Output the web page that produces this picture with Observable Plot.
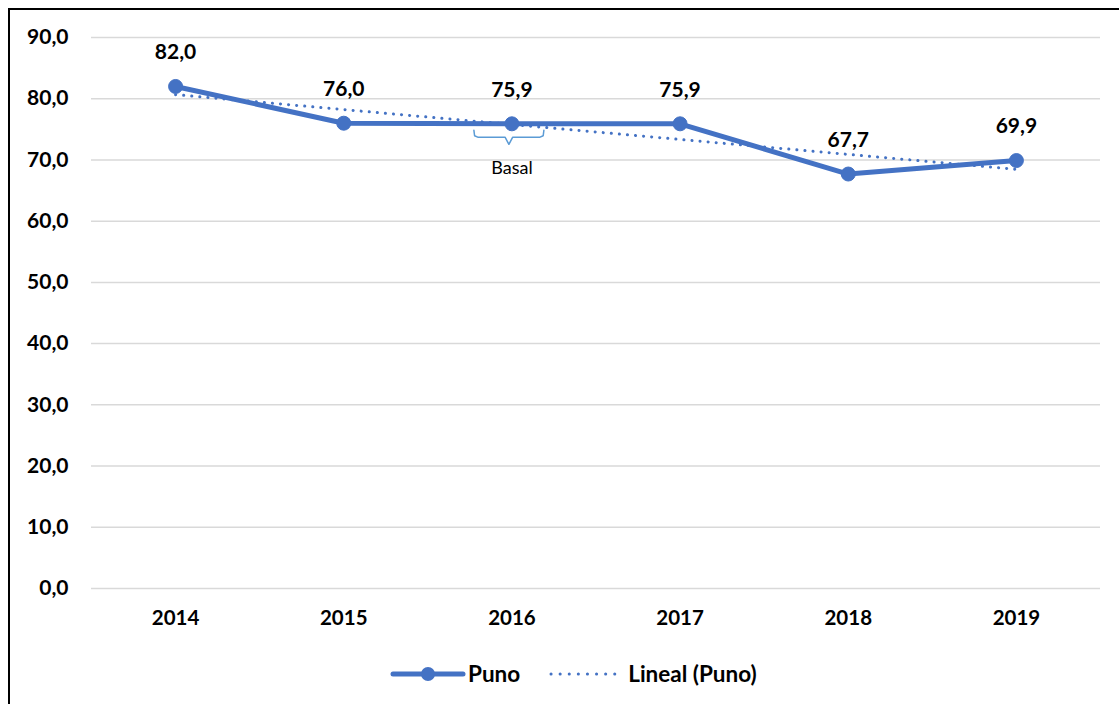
<!DOCTYPE html>
<html>
<head>
<meta charset="utf-8">
<script src="https://cdn.jsdelivr.net/npm/d3@7"></script>
<script src="https://cdn.jsdelivr.net/npm/@observablehq/plot@0.6"></script>
<style>
  html, body { margin: 0; padding: 0; background: #fff; overflow: hidden; }
  #frame { position: absolute; left: 8px; top: 8px; width: 1140px; height: 720px; border: 2px solid #000; box-sizing: border-box; }
  #chart { position: absolute; left: 0px; top: 0px; }
  #legend { position: absolute; left: 380px; top: 650px; display: flex; align-items: center; font-family: Lato, "Noto Sans", sans-serif; font-weight: bold; font-size: 22.5px; color: #000; }
  #legend .item { display: flex; align-items: center; }
  #legend svg { display: block; }
</style>
</head>
<body>
<div id="frame">
  <div id="chart"></div>
  <div id="legend"></div>
</div>
<script>
const years = [2014, 2015, 2016, 2017, 2018, 2019];
const values = [82.0, 76.0, 75.9, 75.9, 67.7, 69.9];
const yTicks = [0, 10, 20, 30, 40, 50, 60, 70, 80, 90];
const seriesName = "Puno";
const trendName = "Lineal (Puno)";
const annotationText = "Basal";
const annotationYear = 2016;
const annotationValue = 68.6;
// brace shape under the 2016 point (data units)
const braceX = [2015.774, 2015.778, 2015.80, 2015.96, 2015.982, 2016.004, 2016.164, 2016.186, 2016.19];
const braceY = [74.84, 73.95, 73.69, 73.69, 72.55, 73.69, 73.69, 73.95, 74.84];

const blue = "#4472C4";
const fmt = d => d.toFixed(1).replace(".", ",");

const data = years.map((y, i) => ({year: y, value: values[i]}));
const brace = braceX.map((x, i) => ({x, y: braceY[i]}));

const chart = Plot.plot({
  width: 1109,
  height: 635,
  marginTop: 27,
  marginLeft: 81,
  marginRight: 19,
  marginBottom: 57,
  style: {fontFamily: "Lato, 'Noto Sans', sans-serif", background: "transparent"},
  x: {domain: [2013.5, 2019.5], ticks: years, tickFormat: d => String(d), tickSize: 0, tickPadding: 22, label: null},
  y: {domain: [0, 90], ticks: yTicks, tickFormat: fmt, tickSize: 0, tickPadding: 23, label: null},
  marks: [
    Plot.gridY(yTicks, {stroke: "#d9d9d9", strokeOpacity: 1, strokeWidth: 1.5}),
    Plot.axisX({ticks: years, tickFormat: d => String(d), tickSize: 0, tickPadding: 22, fontSize: 20.5, fontWeight: "bold", fill: "#000"}),
    Plot.axisY({ticks: yTicks, tickFormat: fmt, tickSize: 0, tickPadding: 23, fontSize: 21, fontWeight: "bold", fill: "#000"}),
    Plot.line(data, {x: "year", y: "value", stroke: blue, strokeWidth: 5, strokeLinejoin: "round"}),
    Plot.linearRegressionY(data, {x: "year", y: "value", stroke: blue, strokeWidth: 3, strokeDasharray: "0.1 8", strokeLinecap: "round", ci: 0}),
    Plot.dot(data, {x: "year", y: "value", r: 7, fill: blue, stroke: blue, strokeWidth: 1}),
    Plot.text(data, {x: "year", y: "value", text: d => fmt(d.value), dy: -34, fontSize: 21, fontWeight: "bold", fill: "#000"}),
    Plot.line(brace, {x: "x", y: "y", stroke: "#5B9BD5", strokeWidth: 1.5, strokeLinejoin: "round", curve: "linear"}),
    Plot.text([annotationText], {x: annotationYear, y: annotationValue, text: d => d, fontSize: 18, fill: "#000"})
  ]
});
document.getElementById("chart").appendChild(chart);

// legend
const legend = document.getElementById("legend");
legend.innerHTML = `
  <div class="item">
    <svg width="76" height="20"><line x1="3" y1="10" x2="73" y2="10" stroke="${blue}" stroke-width="5" stroke-linecap="round"/><circle cx="38" cy="10" r="7" fill="${blue}"/></svg>
    <span style="margin-left:2px">${seriesName}</span>
  </div>
  <div class="item" style="margin-left:28px">
    <svg width="70" height="20"><line x1="3" y1="10" x2="67" y2="10" stroke="${blue}" stroke-width="3" stroke-dasharray="0.1 9" stroke-linecap="round"/></svg>
    <span style="margin-left:10px">${trendName}</span>
  </div>`;
</script>
</body>
</html>
